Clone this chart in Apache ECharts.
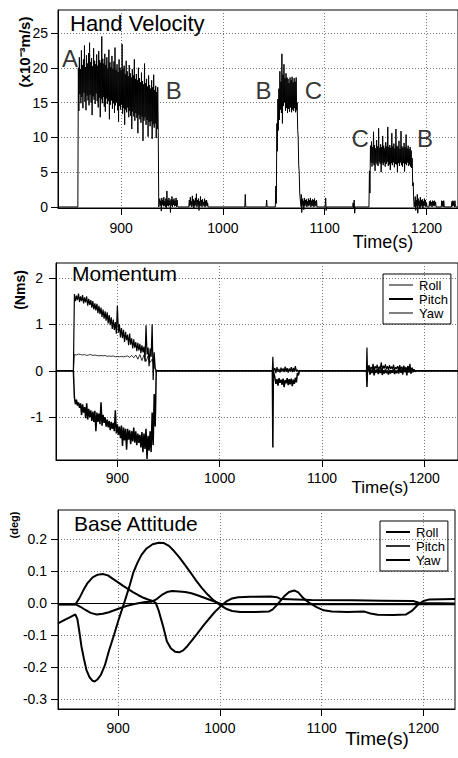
<!DOCTYPE html>
<html>
<head>
<meta charset="utf-8">
<script src="https://cdn.jsdelivr.net/npm/echarts@6.0.0/dist/echarts.min.js"></script>
<style>
html,body{margin:0;padding:0;background:#fff;}
#chart{width:458px;height:758px;}
</style>
</head>
<body>
<div id="chart"></div>
<script>
// ---------- tick labels ----------
const timeTicks = [900, 1000, 1100, 1200];
const velTicks = [0, 5, 10, 15, 20, 25];
const momTicks = [-1, 0, 1, 2];
const attTicks = [-0.3, -0.2, -0.1, 0, 0.1, 0.2];

// ---------- Hand velocity (x10^-3 m/s): upper / lower envelope per second ----------
const velHiA = [20.0, 21.5, 19.8, 22.5, 20.4, 21.2, 23.2, 20.1, 21.8, 20.6,
  22.1, 23.6, 20.8, 21.4, 20.2, 22.8, 21.0, 20.5, 21.9, 20.3,
  22.4, 21.1, 20.7, 24.5, 21.3, 20.6, 22.0, 20.4, 21.5, 19.9,
  22.6, 20.8, 20.1, 21.7, 19.8, 20.9, 22.9, 19.7, 20.5, 19.4,
  21.2, 20.0, 19.6, 23.4, 19.9, 20.3, 19.1, 21.0, 19.5, 18.8,
  20.4, 19.2, 18.6, 19.8, 18.9, 21.2, 18.4, 19.1, 18.2, 20.0,
  18.5, 17.9, 19.3, 18.1, 17.6, 20.6, 17.8, 18.4, 17.3, 18.9,
  17.5, 17.0, 18.2, 17.2, 19.0, 16.8, 17.4, 16.5, 17.2];
const velLoA = [13.8, 16.2, 14.9, 15.8, 14.2, 16.4, 15.1, 13.9, 16.0, 15.3,
  14.6, 16.1, 15.0, 13.2, 15.9, 15.4, 14.8, 16.3, 15.2, 14.3,
  15.7, 12.9, 15.5, 14.9, 15.8, 14.4, 13.7, 15.6, 14.8, 15.2,
  12.6, 14.7, 15.3, 14.1, 14.9, 13.5, 14.6, 15.0, 13.9, 12.2,
  14.5, 14.0, 14.7, 13.4, 14.2, 11.8, 14.0, 13.6, 14.3, 12.9,
  13.8, 13.1, 11.2, 13.7, 13.0, 12.4, 13.5, 12.8, 10.6, 13.2,
  12.6, 12.1, 13.0, 9.5, 12.4, 12.9, 11.8, 12.5, 10.1, 12.2,
  11.6, 12.3, 9.8, 11.9, 11.4, 12.0, 9.9, 11.2, 10.8];
const velHiB = [3.0, 12.0, 15.5, 17.0, 19.5, 18.0, 22.0, 19.0, 20.5, 18.5, 19.2, 18.6, 18.4,
  17.8, 18.6, 18.2, 18.7, 17.9, 18.5, 18.0, 18.6, 15.0, 10.0, 5.0, 2.0];
const velLoB = [0.5, 8.0, 11.0, 12.5, 14.0, 13.5, 12.0, 14.5, 15.0, 13.8, 14.2, 13.5, 14.1,
  13.7, 14.3, 13.6, 14.0, 13.8, 14.2, 13.6, 13.9, 11.0, 6.0, 2.0, 0.3];
const velHiC = [5.2, 8.8, 9.4, 8.6, 10.8, 8.9, 8.4, 9.6, 8.7, 11.3, 8.5, 9.0, 8.6, 10.2, 8.8,
  8.4, 9.3, 8.7, 11.5, 8.6, 8.9, 8.5, 10.6, 8.7, 9.1, 8.4, 11.2, 8.8, 8.6, 9.5, 8.3, 10.9,
  8.7, 8.5, 9.2, 8.6, 10.4, 8.4, 8.8, 8.3, 8.6, 8.1, 7.0, 3.5];
const velLoC = [2.0, 6.4, 5.8, 6.3, 6.0, 5.2, 6.4, 6.1, 5.9, 6.5, 6.2, 5.0, 6.3, 6.0, 6.4,
  5.8, 6.2, 6.5, 5.9, 6.1, 5.3, 6.3, 6.0, 6.4, 5.7, 6.2, 6.1, 5.0, 6.3, 5.9, 6.4, 6.0,
  5.8, 6.3, 5.1, 6.2, 6.0, 6.4, 5.9, 6.1, 5.8, 5.6, 3.0, 0.8];
const velHiN1 = [1.2, 0.9, 1.3, 1.0, 1.4, 0.8, 1.2, 2.3, 1.0, 1.3, 0.9, 1.1, 1.5, 1.0, 1.2, 0.9, 1.3, 1.0];
const velLoN1 = [0.2, -0.6, 0.3, 0.1, 0.2, 0.0, -0.3, 0.2, 0.1, 0.3, -0.8, 0.2, 0.0, 0.3, 0.1, 0.2, 0.0, 0.2];
const velHiN2 = [1.0, 1.4, 0.8, 1.6, 1.1, 0.9, 1.3, 1.9, 1.0, 1.2, 0.8, 1.5, 1.0, 1.1, 0.7, 1.2, 0.9, 1.0, 0.6];
const velLoN2 = [0.1, 0.3, 0.0, 0.2, -0.2, 0.1, 0.3, 0.0, 0.2, -0.5, 0.1, 0.2, 0.0, 0.3, 0.1, 0.0, 0.2, 0.1, 0.0];
const velHiN3 = [1.8, 1.2, 0.9, 1.3, 1.0, 1.1, 0.8, 1.2, 1.0, 1.3, 0.9, 1.1, 1.0, 1.2, 0.8, 1.0];
const velLoN3 = [-0.8, 0.2, -0.4, 0.1, 0.3, 0.0, 0.2, 0.1, 0.3, 0.0, 0.2, 0.1, 0.0, 0.2, 0.1, 0.0];
const velHiN4 = [1.5, 1.0, 1.8, 1.2, 0.9, 1.4, 1.0, 1.1, 0.8, 1.2, 1.0, 0.6];
const velLoN4 = [-0.5, 0.1, -0.9, 0.2, -0.3, 0.0, 0.2, -0.2, 0.1, 0.2, 0.0, 0.1];
const velHiN5 = [0.8, 0.9, 0.7, 0.9, 0.8, 0.9, 0.7];
const velLoN5 = [0.1, 0.2, 0.0, 0.2, 0.1, 0.2, 0.0];
const velHiN6 = [0.9, 0.8, 0.9];
const velLoN6 = [0.1, 0.0, 0.2];
const velHiN7 = [0.8, 0.9, 0.8, 0.9];
const velLoN7 = [0.1, 0.2, 0.0, 0.1];
// segment start times (s)
const velStarts = [858, 938, 967, 1022, 1043, 1052, 1077, 1101, 1128, 1144, 1189, 1203, 1215, 1225];

// ---------- Momentum (Nms), samples every 2 s ----------
const momRollHi1 = [1.65, 1.62, 1.66, 1.60, 1.63, 1.58, 1.60, 1.55, 1.52, 1.50,
  1.45, 1.44, 1.40, 1.36, 1.32, 1.28, 1.26, 1.20, 1.15, 1.10,
  1.05, 1.40, 1.00, 0.92, 0.88, 0.84, 0.78, 0.80, 0.70, 0.68,
  0.62, 0.60, 0.58, 0.55, 0.52, 0.98, 0.50, 0.48, 1.00, 0.40];
const momRollLo1 = [1.50, 1.52, 1.48, 1.50, 1.45, 1.47, 1.40, 1.42, 1.36, 1.32,
  1.30, 1.24, 1.22, 1.16, 1.12, 1.08, 1.02, 0.98, 0.90, 0.88,
  0.80, 0.82, 0.72, 0.70, 0.62, 0.66, 0.55, 0.56, 0.48, 0.50,
  0.42, 0.44, 0.38, 0.40, 0.20, 0.35, 0.10, 0.30, -0.20, 0.05];
const momPitchHi1 = [-0.58, -0.62, -0.68, -0.70, -0.72, -0.78, -0.70, -0.82, -0.85, -0.88,
  -0.86, -0.90, -0.92, -0.68, -0.95, -1.00, -1.05, -1.08, -1.10, -1.12,
  -0.85, -1.15, -1.20, -1.18, -1.22, -1.25, -1.25, -1.28, -1.30, -1.22,
  -1.30, -1.35, -1.38, -1.32, -1.35, -1.25, -1.40, -1.30, -0.90, -0.50];
const momPitchLo1 = [-0.72, -0.75, -0.80, -0.95, -0.90, -1.02, -1.05, -1.00, -1.08, -1.10,
  -1.30, -1.10, -1.15, -1.18, -1.12, -1.20, -1.22, -1.28, -1.25, -1.30,
  -1.35, -1.38, -1.45, -1.62, -1.50, -1.70, -1.48, -1.58, -1.52, -1.55,
  -1.60, -1.55, -1.65, -1.75, -1.68, -1.90, -1.72, -1.75, -1.60, -1.20];
const momYaw1 = [0.35, 0.34, 0.36, 0.35, 0.34, 0.35, 0.33, 0.34, 0.35, 0.33,
  0.34, 0.33, 0.32, 0.33, 0.32, 0.33, 0.31, 0.32, 0.31, 0.32,
  0.30, 0.31, 0.30, 0.31, 0.30, 0.31, 0.32, 0.29, 0.33, 0.28,
  0.34, 0.25, 0.35, 0.22, 0.34, 0.20, 0.32, 0.18, 0.25, 0.10];
const momRollHi2 = [0.06, 0.08, 0.04, 0.07, 0.05, 0.09, 0.06, 0.05, 0.08, 0.06, 0.10, 0.02];
const momRollLo2 = [-0.05, -0.02, -0.04, -0.01, -0.03, -0.02, -0.04, -0.01, -0.03, -0.02, -0.01, -0.03];
const momPitchHi2 = [-0.15, -0.18, -0.16, -0.19, -0.17, -0.20, -0.16, -0.18, -0.17, -0.19, -0.15, -0.05];
const momPitchLo2 = [-0.28, -0.32, -0.26, -0.30, -0.35, -0.27, -0.31, -0.29, -0.33, -0.28, -0.25, -0.10];
const momRollHi3 = [0.12, 0.08, 0.15, 0.10, 0.13, 0.09, 0.18, 0.11, 0.14, 0.10, 0.12, 0.09,
  0.13, 0.08, 0.10, 0.12, 0.09, 0.11, 0.08, 0.10, 0.15, 0.07, 0.03];
const momRollLo3 = [0.02, 0.04, 0.00, 0.05, 0.02, 0.04, 0.01, 0.05, 0.03, 0.02, 0.04, 0.03,
  0.01, 0.04, 0.02, 0.03, 0.01, 0.02, 0.00, 0.03, -0.02, 0.01, 0.00];
const momPitchHi3 = [0.05, 0.03, 0.06, 0.02, 0.04, 0.03, 0.05, 0.01, 0.03, 0.00, 0.02, 0.01,
  0.03, 0.00, 0.02, 0.06, 0.03, 0.08, 0.05, 0.10, 0.06, 0.04, 0.02];
const momPitchLo3 = [-0.08, -0.05, -0.10, -0.04, -0.07, -0.05, -0.09, -0.06, -0.05, -0.08, -0.06, -0.04,
  -0.07, -0.05, -0.06, -0.04, -0.08, -0.03, -0.10, -0.04, -0.06, -0.03, -0.02];
const momSpikeT = [1052, 1144];
const momRollSpike = [0.30, 0.50];
const momPitchSpike = [-1.65, -0.35];
const momStarts = [858, 1054, 1146];

// ---------- Base attitude (deg) ----------
const attYawT = [841, 848, 853, 858, 860, 862, 864, 866.5, 869, 872, 875, 877, 880, 883, 887, 891, 896, 901, 906, 911,
  915, 919, 923, 928, 934, 940, 945, 950, 955, 960, 965, 970, 976, 982, 988, 994, 1000, 1006, 1012, 1020,
  1035, 1048, 1052, 1057, 1063, 1068, 1073, 1077, 1082, 1088, 1095, 1102, 1110, 1125, 1142, 1148, 1155, 1170, 1183, 1189,
  1195, 1200, 1206, 1231];
const attYaw = [-0.064, -0.052, -0.044, -0.036, -0.05, -0.09, -0.135, -0.175, -0.21, -0.232, -0.243, -0.245, -0.238, -0.225, -0.195, -0.15, -0.1, -0.048, 0.0, 0.05,
  0.095, 0.125, 0.15, 0.17, 0.183, 0.188, 0.187, 0.178, 0.162, 0.143, 0.122, 0.1, 0.073, 0.048, 0.026, 0.008, -0.006, -0.018, -0.025, -0.028,
  -0.028, -0.027, -0.02, -0.003, 0.02, 0.034, 0.039, 0.033, 0.015, 0.0, -0.013, -0.023, -0.027, -0.028, -0.027, -0.033, -0.037, -0.038, -0.036, -0.024,
  -0.004, 0.006, 0.011, 0.012];
const attPitchT = [841, 858, 862, 866, 870, 875, 880, 885, 890, 895, 900, 905, 910, 915, 920, 925, 930, 934, 937, 940,
  944, 948, 952, 956, 960, 964, 968, 973, 978, 984, 990, 996, 1001, 1006, 1012, 1018, 1030, 1050, 1056, 1060,
  1090, 1130, 1160, 1190, 1196, 1231];
const attPitch = [-0.005, -0.005, 0.015, 0.04, 0.062, 0.08, 0.088, 0.09, 0.086, 0.075, 0.064, 0.053, 0.043, 0.033, 0.024, 0.016, 0.01, 0.006, 0.0, -0.025,
  -0.07, -0.12, -0.142, -0.152, -0.154, -0.148, -0.135, -0.115, -0.095, -0.07, -0.047, -0.025, -0.01, 0.004, 0.014, 0.018, 0.019, 0.02, 0.018, 0.012,
  0.009, 0.008, 0.007, 0.006, 0.0, -0.002];
const attRollT = [841, 858, 863, 868, 873, 879, 885, 891, 897, 903, 909, 915, 921, 927, 933, 938, 943, 948, 953, 960,
  966, 972, 978, 984, 990, 996, 1002, 1231];
const attRoll = [-0.004, -0.004, -0.012, -0.022, -0.031, -0.036, -0.034, -0.029, -0.022, -0.015, -0.009, -0.004, 0.0, 0.003, 0.004, 0.012, 0.025, 0.034, 0.037, 0.036,
  0.034, 0.03, 0.024, 0.017, 0.01, 0.003, -0.004, -0.004];

// ---------- annotation letters on the velocity panel ----------
const annoNames = ['A', 'B', 'B', 'C', 'C', 'B'];
const annoT = [849.8, 951.7, 1039.9, 1088.9, 1134.9, 1198.6];
const annoV = [21.3, 16.8, 16.8, 16.8, 9.9, 9.9];

// ---------- builders ----------
function build(tA, tB, segs) {
  const pts = [[tA, 0]];
  segs.forEach(s => {
    const step = s.step || 1;
    pts.push([s.t0 - step / 2, 0]);
    s.hi.forEach((h, i) => {
      const t = s.t0 + i * step;
      pts.push([t, h]);
      if (s.lo) pts.push([t + step / 2, s.lo[i]]);
    });
    pts.push([s.t0 + s.hi.length * step, 0]);
  });
  pts.push([tB, 0]);
  return pts;
}
const pairs = (ts, vs) => ts.map((t, i) => [t, vs[i]]);

const velHiList = [velHiA, velHiN1, velHiN2, [1.8], [1.0], velHiB, velHiN3, [1.3], [0.6, 1.0], velHiC, velHiN4, velHiN5, velHiN6, velHiN7];
const velLoList = [velLoA, velLoN1, velLoN2, [0.0], [0.0], velLoB, velLoN3, [-0.5], [-0.2, -0.9], velLoC, velLoN4, velLoN5, velLoN6, velLoN7];
const velData = build(838, 1231, velStarts.map((t0, i) => ({t0, hi: velHiList[i], lo: velLoList[i]})));

const rollData = build(840, 1233, [
  {t0: momStarts[0], step: 2, hi: momRollHi1, lo: momRollLo1},
  {t0: momSpikeT[0], step: 1, hi: [momRollSpike[0]], lo: [0]},
  {t0: momStarts[1], step: 2, hi: momRollHi2, lo: momRollLo2},
  {t0: momSpikeT[1], step: 1, hi: [momRollSpike[1]], lo: [0]},
  {t0: momStarts[2], step: 2, hi: momRollHi3, lo: momRollLo3}
]);
const pitchData = build(840, 1233, [
  {t0: momStarts[0], step: 2, hi: momPitchHi1, lo: momPitchLo1},
  {t0: momSpikeT[0], step: 1, hi: [momPitchSpike[0]], lo: [0]},
  {t0: momStarts[1], step: 2, hi: momPitchHi2, lo: momPitchLo2},
  {t0: momSpikeT[1], step: 1, hi: [momPitchSpike[1]], lo: [0]},
  {t0: momStarts[2], step: 2, hi: momPitchHi3, lo: momPitchLo3}
]);
const yawData = build(840, 1233, [{t0: momStarts[0], step: 2, hi: momYaw1}]);

// ---------- chart ----------
const FONT = "'Liberation Sans', Arial, Helvetica, sans-serif";
const chart = echarts.init(document.getElementById('chart'), null, {renderer: 'svg'});

function xAxisCfg(gi, min, max, margin) {
  return {
    type: 'value', gridIndex: gi, min, max,
    axisLine: {show: true, onZero: false, lineStyle: {color: '#000', width: 1}},
    axisTick: {show: true, length: 7, customValues: timeTicks, lineStyle: {color: '#000'}},
    axisLabel: {customValues: timeTicks, margin, fontSize: 14, color: '#000', fontFamily: FONT, formatter: v => String(v)},
    splitLine: {show: true, lineStyle: {color: '#777', type: [1, 2], width: 1}}
  };
}
function yAxisCfg(gi, min, max, ticks, margin, fmt) {
  return {
    type: 'value', gridIndex: gi, min, max,
    axisLine: {show: true, onZero: false, lineStyle: {color: '#000', width: 1}},
    axisTick: {show: true, length: 7, customValues: ticks, lineStyle: {color: '#000'}},
    axisLabel: {customValues: ticks, margin, fontSize: 14, color: '#000', fontFamily: FONT, formatter: fmt},
    splitLine: {show: true, lineStyle: {color: '#777', type: [1, 2], width: 1}}
  };
}
const lineSeries = (name, gi, data, width, extra) => Object.assign({
  name, type: 'line', xAxisIndex: gi, yAxisIndex: gi, data,
  symbol: 'none', showSymbol: false, silent: true,
  lineStyle: {color: '#000', width}, itemStyle: {color: '#000'}
}, extra || {});

const ICON_THIN = 'path://M0,0M24,14M0,6.5L24,6.5L24,7.5L0,7.5Z';
const ICON_MID = 'path://M0,0M24,14M0,6.2L24,6.2L24,7.8L0,7.8Z';
const ICON_THICK = 'path://M0,0M24,14M0,6L24,6L24,8L0,8Z';

const titleStyle = size => ({fontSize: size, fontWeight: 'normal', color: '#000', fontFamily: FONT});
const legendCfg = (items, left, top) => ({
  data: items, left, top, orient: 'vertical',
  borderColor: '#000', borderWidth: 1, padding: [4, 3, 4, 6],
  itemWidth: 24, itemHeight: 14, itemGap: 0,
  formatter: n => n.trim(),
  itemStyle: {color: '#000', borderWidth: 0},
  textStyle: {fontSize: 13, color: '#000', fontFamily: FONT, lineHeight: 14, padding: [0, 0, 0, 1]},
  selectedMode: false
});

const option = {
  animation: false,
  backgroundColor: '#fff',
  textStyle: {fontFamily: FONT},
  title: [
    {text: 'Hand Velocity', left: 70, top: 12, padding: 0, textStyle: titleStyle(22)},
    {text: 'Momentum', left: 72, top: 263, padding: 0, textStyle: titleStyle(21)},
    {text: 'Base Attitude', left: 74, top: 513, padding: 0, textStyle: titleStyle(21)}
  ],
  legend: [
    legendCfg([{name: 'Roll', icon: ICON_THIN}, {name: 'Pitch', icon: ICON_THICK}, {name: 'Yaw', icon: ICON_THIN}], 383, 274),
    legendCfg([{name: 'Roll ', icon: ICON_THICK}, {name: 'Pitch ', icon: ICON_MID}, {name: 'Yaw ', icon: ICON_THICK}], 380, 521)
  ],
  grid: [
    {left: 58, right: -1, top: 10, bottom: 550, show: true, borderColor: '#000', borderWidth: 1},
    {left: 56, right: -1, top: 263, bottom: 298, show: true, borderColor: '#000', borderWidth: 1},
    {left: 58, right: 3, top: 510, bottom: 49, show: true, borderColor: '#000', borderWidth: 1}
  ],
  xAxis: [xAxisCfg(0, 838, 1231, 13), xAxisCfg(1, 840, 1233, 11), xAxisCfg(2, 841, 1231, 12)],
  yAxis: [
    yAxisCfg(0, -0.15, 28.3, velTicks, 10, v => String(v)),
    yAxisCfg(1, -1.92, 2.32, momTicks, 13, v => String(v)),
    yAxisCfg(2, -0.331, 0.29, attTicks, 11, v => v.toFixed(1))
  ],
  series: [
    lineSeries('Velocity', 0, velData, 1, {clip: false}),
    {
      type: 'scatter', xAxisIndex: 0, yAxisIndex: 0, silent: true, z: 5,
      data: annoNames.map((n, i) => ({name: n, value: [annoT[i], annoV[i]]})),
      symbolSize: 1, itemStyle: {color: 'rgba(0,0,0,0)'},
      label: {show: true, position: 'inside', formatter: '{b}', fontSize: 24, color: '#000', fontFamily: FONT}
    },
    lineSeries('Yaw', 1, yawData, 0.8),
    lineSeries('Roll', 1, rollData, 1.2),
    lineSeries('Pitch', 1, pitchData, 1.5),
    lineSeries('Roll ', 2, pairs(attRollT, attRoll), 2, {
      markLine: {silent: true, symbol: 'none', label: {show: false},
        lineStyle: {color: '#000', width: 1, type: 'solid'}, data: [{yAxis: 0}]}
    }),
    lineSeries('Pitch ', 2, pairs(attPitchT, attPitch), 2),
    lineSeries('Yaw ', 2, pairs(attYawT, attYaw), 2)
  ],
  graphic: [
    {type: 'text', x: 24, y: 52, rotation: Math.PI / 2,
      style: {text: '(x10\u207B\u00B3m/s)', font: 'bold 15px ' + FONT, fill: '#000', align: 'center', verticalAlign: 'middle'}},
    {type: 'text', x: 20, y: 290, rotation: Math.PI / 2,
      style: {text: '(Nms)', font: 'bold 14px ' + FONT, fill: '#000', align: 'center', verticalAlign: 'middle'}},
    {type: 'text', x: 14, y: 525, rotation: Math.PI / 2,
      style: {text: '(deg)', font: 'bold 11px ' + FONT, fill: '#000', align: 'center', verticalAlign: 'middle'}},
    {type: 'text', x: 383, y: 242,
      style: {text: 'Time(s)', font: '18px ' + FONT, fill: '#000', align: 'center', verticalAlign: 'middle'}},
    {type: 'text', x: 380, y: 487,
      style: {text: 'Time(s)', font: '17px ' + FONT, fill: '#000', align: 'center', verticalAlign: 'middle'}},
    {type: 'text', x: 377, y: 738,
      style: {text: 'Time(s)', font: '19px ' + FONT, fill: '#000', align: 'center', verticalAlign: 'middle'}}
  ]
};
chart.setOption(option);
</script>
</body>
</html>
